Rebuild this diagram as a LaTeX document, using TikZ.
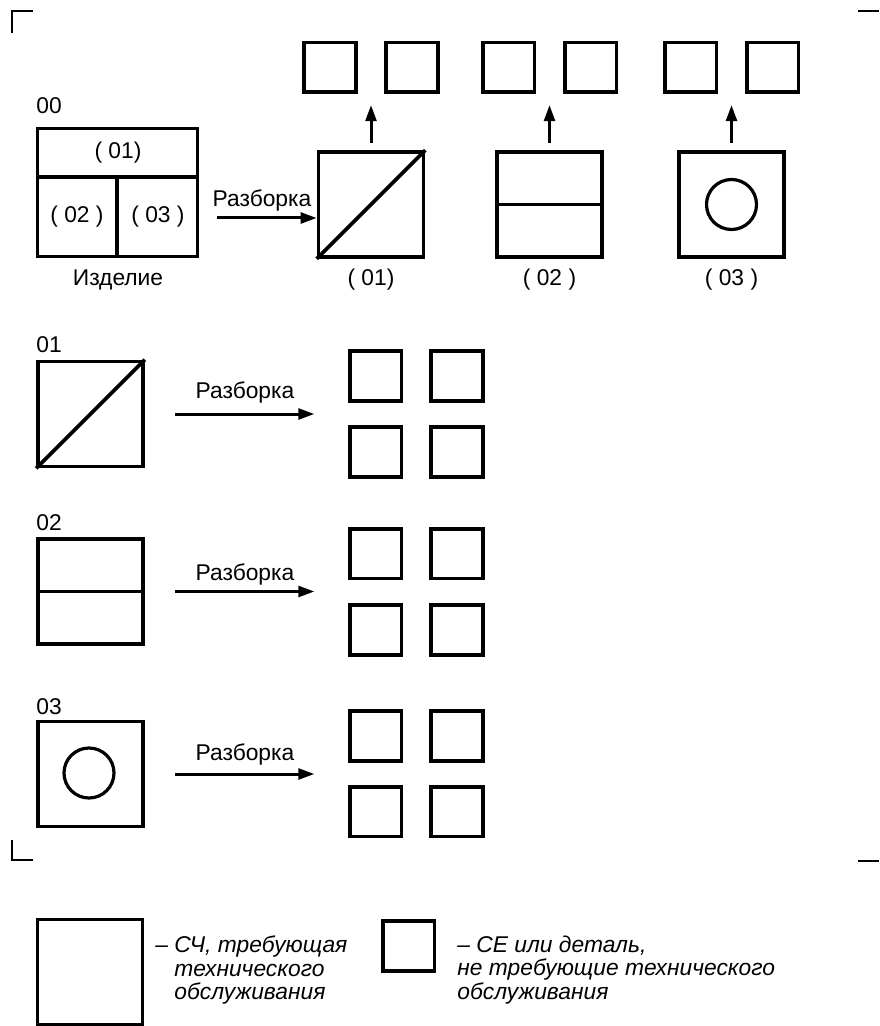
\documentclass[tikz,border=0pt]{standalone}
\usepackage{fontspec}
\setmainfont{Liberation Sans}
\usetikzlibrary{arrows.meta,positioning}
\tikzset{
  sch/.style={draw,line width=1.8pt,minimum width=52.5pt,minimum height=52.5pt,inner sep=0pt},
  det/.style={draw,line width=1.8pt,minimum width=25.8pt,minimum height=24.8pt,inner sep=0pt},
  ar/.style={-{Triangle[length=8pt,width=5.4pt]},line width=1.5pt},
  lbl/.style={font=\fontsize{11.4}{13}\selectfont,inner sep=0pt},
  leg/.style={font=\fontsize{11.4}{11.6}\selectfont\itshape,align=left,inner sep=0pt,anchor=west},
  cornermark/.style={line width=1pt}
}
\begin{document}
\begin{tikzpicture}[x=0.5pt,y=-0.5pt]
\useasboundingbox (0,0) rectangle (879,1026);
% corner marks
\draw[cornermark] (12,33)--(12,11)--(33,11);
\draw[cornermark] (858,11)--(879,11);
\draw[cornermark] (12,840)--(12,860)--(33,860);
\draw[cornermark] (858,861)--(879,861);
% product and first disassembly
\node[sch,minimum width=80pt,minimum height=64pt] (izd) at (117.5,192.5) {};
\draw[line width=1.8pt] (37.5,177)--(197.5,177);
\draw[line width=1.8pt] (117,177)--(117,256.5);
\node[lbl,anchor=west] at (36,106) {00};
\node[lbl] at (118,153) {( 01)};
\node[lbl] at (77,217) {( 02 )};
\node[lbl] at (158,217) {( 03 )};
\node[lbl] at (118,280) {Изделие};
\node[sch] (b1) at (371,204.5) {};
\draw[line width=1.8pt] (b1.south west)--(b1.north east);
\node[sch] (b2) at (549.5,204.5) {};
\draw[line width=1.8pt] (b2.west)--(b2.east);
\node[sch] (b3) at (731.5,204.5) {};
\draw[line width=1.6pt] (b3.center) circle[radius=12.5pt];
\node[lbl] at (371,280) {( 01)};
\node[lbl] at (549.5,280) {( 02 )};
\node[lbl] at (731.5,280) {( 03 )};
\coordinate (r0) at (217,218);
\draw[ar] (r0) -- (r0 -| b1.west);
\node[lbl] at (262,201) {Разборка};
\node[det] (s1a) at (330,67.5) {};
\node[det] (s1b) at (412,67.5) {};
\node[det] (s2a) at (508.5,67.5) {};
\node[det] (s2b) at (590.5,67.5) {};
\node[det] (s3a) at (690.5,67.5) {};
\node[det] (s3b) at (772.5,67.5) {};
\draw[ar,shorten <=3.5pt,shorten >=5.5pt] (b1.north) -- (b1.north |- s1a.south);
\draw[ar,shorten <=3.5pt,shorten >=5.5pt] (b2.north) -- (b2.north |- s2a.south);
\draw[ar,shorten <=3.5pt,shorten >=5.5pt] (b3.north) -- (b3.north |- s3a.south);
% disassembly of 01
\node[lbl,anchor=west] at (36,345) {01};
\node[sch] (d1) at (90.5,414) {};
\draw[line width=1.8pt] (d1.south west)--(d1.north east);
\node[det] (q1a) at (375.5,376) {};
\node[det] (q1b) at (457,376) {};
\node[det] (q1c) at (375.5,452) {};
\node[det] (q1d) at (457,452) {};
\draw[ar,shorten <=15pt,shorten >=16.75pt] (d1.east) -- (d1.east -| q1a.west);
\node[lbl] at (245,393) {Разборка};
% disassembly of 02
\node[lbl,anchor=west] at (36,523) {02};
\node[sch] (d2) at (90.5,591.5) {};
\draw[line width=1.8pt] (d2.west)--(d2.east);
\node[det] (q2a) at (375.5,553.5) {};
\node[det] (q2b) at (457,553.5) {};
\node[det] (q2c) at (375.5,630) {};
\node[det] (q2d) at (457,630) {};
\draw[ar,shorten <=15pt,shorten >=16.75pt] (d2.east) -- (d2.east -| q2a.west);
\node[lbl] at (245,574) {Разборка};
% disassembly of 03
\node[lbl,anchor=west] at (36,707) {03};
\node[sch] (d3) at (90.5,774) {};
\draw[line width=1.6pt] (89,773) circle[radius=12.5pt];
\node[det] (q3a) at (375.5,736) {};
\node[det] (q3b) at (457,736) {};
\node[det] (q3c) at (375.5,811.5) {};
\node[det] (q3d) at (457,811.5) {};
\draw[ar,shorten <=15pt,shorten >=16.75pt] (d3.east) -- (d3.east -| q3a.west);
\node[lbl] at (245,754) {Разборка};
% legend
\node[sch] (lg1) at (90,972) {};
\node[leg] (lt1) at (155,970) {– СЧ, требующая\\\phantom{– }технического\\\phantom{– }обслуживания};
\node[det] (lg2) at (408.5,946) {};
\node[leg] (lt2) at (457,970) {– СЕ или деталь,\\не требующие технического\\обслуживания};
\end{tikzpicture}
\end{document}
